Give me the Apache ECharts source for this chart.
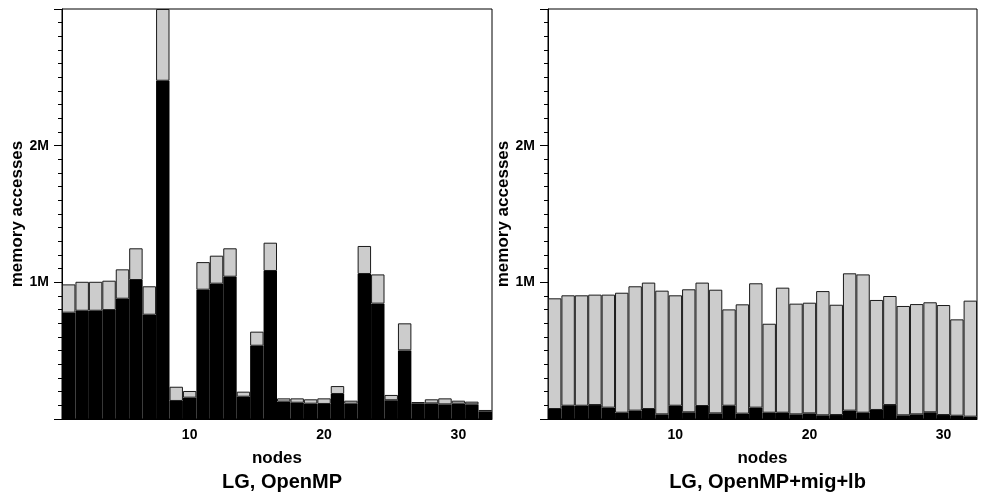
<!DOCTYPE html>
<html>
<head>
<meta charset="utf-8">
<script src="https://cdn.jsdelivr.net/npm/echarts@6/dist/echarts.min.js"></script>
<style>
html,body{margin:0;padding:0;background:#fff;}
#c{width:981px;height:498px;}
</style>
</head>
<body>
<div id="c"></div>
<script>
// nodes 1..32
const nodes = Array.from({length: 32}, (_, i) => String(i + 1));
// LG, OpenMP (memory accesses)
const leftLocal = [778000,792000,792000,797000,880000,1017000,763000,2475000,132000,156000,946000,990000,1041000,163000,536000,1083000,127000,119000,112000,110000,183000,112000,1061000,844000,137000,502000,114000,114000,107000,112000,107000,53000];
const leftTotal = [985000,1004000,1004000,1012000,1095000,1249000,971000,3000000,236000,205000,1148000,1195000,1249000,200000,639000,1290000,151000,151000,144000,151000,241000,134000,1266000,1058000,176000,700000,124000,144000,151000,134000,127000,66000];
// LG, OpenMP+mig+lb (memory accesses)
const rightLocal = [73000,97000,97000,102000,83000,46000,61000,73000,34000,97000,49000,95000,41000,97000,39000,83000,46000,46000,34000,41000,27000,29000,61000,46000,66000,102000,27000,34000,49000,29000,24000,17000];
const rightTotal = [883000,905000,905000,910000,910000,924000,971000,998000,939000,905000,949000,998000,946000,802000,839000,993000,697000,961000,844000,851000,936000,836000,1066000,1058000,871000,900000,827000,841000,854000,834000,729000,866000];
const yTickLabels = {1000000: '1M', 2000000: '2M'};
const titles = ['LG, OpenMP', 'LG, OpenMP+mig+lb'];

const FONT = 'Liberation Sans, Arial, sans-serif';
const grids = [
  {left: 62, top: 9, width: 430, height: 410},
  {left: 548, top: 9, width: 429, height: 410}
];
const chart = echarts.init(document.getElementById('c'), null, {renderer: 'canvas'});

function xAxes(gi) {
  return [
    {
      type: 'category', gridIndex: gi, data: nodes, boundaryGap: true,
      name: 'nodes', nameLocation: 'middle', nameGap: 31,
      nameTextStyle: {fontFamily: FONT, fontWeight: 'bold', fontSize: 17, color: '#000'},
      axisLine: {lineStyle: {color: '#000', width: 1}},
      axisTick: {alignWithLabel: true, interval: 0, length: 3, lineStyle: {color: '#000'}},
      axisLabel: {interval: (i, v) => Number(v) % 10 === 0, fontFamily: FONT, fontWeight: 'bold', fontSize: 14, color: '#000', margin: 9},
      splitLine: {show: false}
    },
    {
      type: 'category', gridIndex: gi, data: nodes, boundaryGap: true, position: 'bottom',
      axisLine: {show: false},
      axisTick: {alignWithLabel: true, interval: (i, v) => Number(v) % 10 === 0, length: 6, lineStyle: {color: '#000'}},
      axisLabel: {show: false},
      splitLine: {show: false}
    }
  ];
}
function yAxis(gi) {
  return {
    type: 'value', gridIndex: gi, min: 0, max: 3000000, interval: 1000000,
    name: 'memory accesses', nameLocation: 'middle', nameGap: 36, nameRotate: 90,
    nameTextStyle: {fontFamily: FONT, fontWeight: 'bold', fontSize: 17, color: '#000'},
    axisLine: {show: true, lineStyle: {color: '#000', width: 1}},
    axisTick: {show: true, length: 8, lineStyle: {color: '#000'}},
    minorTick: {show: true, splitNumber: 10, length: 4, lineStyle: {color: '#000'}},
    axisLabel: {formatter: v => yTickLabels[v] || '', fontFamily: FONT, fontWeight: 'bold', fontSize: 14, color: '#000', margin: 13},
    splitLine: {show: false}
  };
}
function seriesFor(gi, local, total) {
  const rest = total.map((t, i) => t - local[i]);
  return [
    {type: 'bar', xAxisIndex: gi * 2, yAxisIndex: gi, stack: 's' + gi, data: local,
     barWidth: '100%', barCategoryGap: '0%', itemStyle: {color: '#000'}, silent: true},
    {type: 'bar', xAxisIndex: gi * 2, yAxisIndex: gi, stack: 's' + gi, data: rest,
     barWidth: '100%', barCategoryGap: '0%', itemStyle: {color: '#cccccc', borderColor: '#1a1a1a', borderWidth: 1}, silent: true}
  ];
}
chart.setOption({
  animation: false,
  backgroundColor: '#fff',
  grid: grids.map(g => Object.assign({show: true, borderColor: '#000', borderWidth: 1, backgroundColor: 'transparent'}, g)),
  title: titles.map((t, i) => ({
    text: t, left: grids[i].left + grids[i].width / 2, top: 467, textAlign: 'center',
    textStyle: {fontFamily: FONT, fontWeight: 'bold', fontSize: 20, color: '#000'}
  })),
  xAxis: [...xAxes(0), ...xAxes(1)],
  yAxis: [yAxis(0), yAxis(1)],
  series: [...seriesFor(0, leftLocal, leftTotal), ...seriesFor(1, rightLocal, rightTotal)]
});
</script>
</body>
</html>
